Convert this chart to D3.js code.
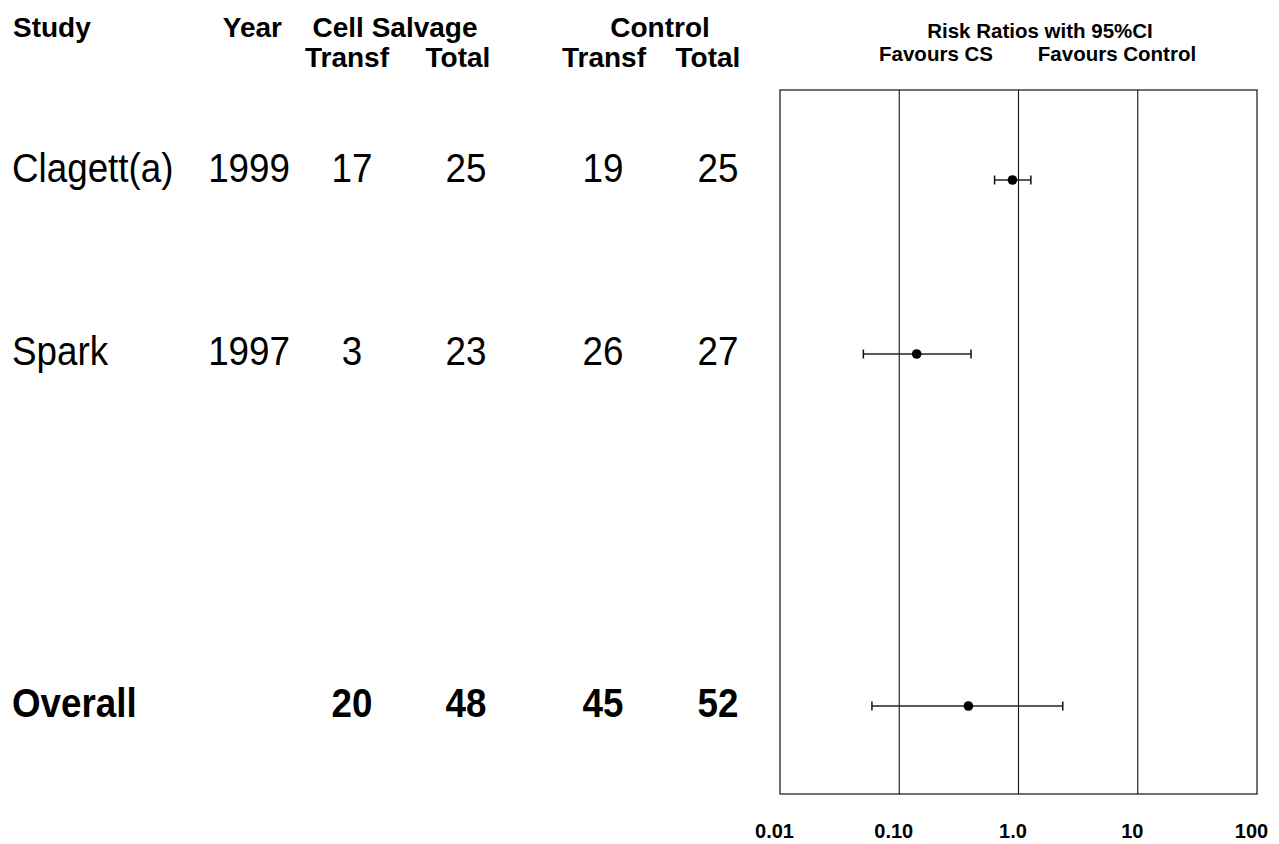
<!DOCTYPE html>
<html>
<head>
<meta charset="utf-8">
<script src="https://cdn.jsdelivr.net/npm/d3@7"></script>
<style>
  html, body { margin: 0; padding: 0; background: #fff; }
  svg { display: block; }
  text { font-family: "Liberation Sans", Arial, Helvetica, sans-serif; fill: #000; }
</style>
</head>
<body>
<svg id="chart" width="1279" height="844"></svg>
<script>
// ---- data ----
const studies    = ["Clagett(a)", "Spark", "Overall"];
const years      = ["1999", "1997", ""];
const csTransf   = [17, 3, 20];
const csTotal    = [25, 23, 48];
const ctrlTransf = [19, 26, 45];
const ctrlTotal  = [25, 27, 52];
const rowIndex   = [0, 1, 3];           // Overall sits after a blank row
const isSummary  = [false, false, true];
const rr         = [0.89, 0.14, 0.38];
const ciLow      = [0.63, 0.05, 0.059];
const ciHigh     = [1.27, 0.40, 2.35];
const tickValues = [0.01, 0.1, 1, 10, 100];
const tickLabels = ["0.01", "0.10", "1.0", "10", "100"];
const gridValues = [0.1, 1, 10];
const plotTitle1 = "Risk Ratios with 95%CI";
const favLeft    = "Favours CS";
const favRight   = "Favours Control";

// ---- layout ----
const svg = d3.select("#chart");
const box = { left: 780, right: 1257, top: 90, bottom: 794 };

const x = d3.scaleLog().domain([0.01, 100]).range([box.left, box.right]);
const yMark = d3.scaleLinear().domain([0, 1, 3]).range([180, 354, 706]);
const yText = d3.scaleLinear().domain([0, 1, 3]).range([182, 365, 717]);

// ---- headers ----
const hdr = svg.append("g").attr("font-weight", "bold").attr("font-size", 28);
hdr.append("text").attr("x", 13).attr("y", 37).text("Study");
hdr.append("text").attr("x", 282).attr("y", 37).attr("text-anchor", "end").text("Year");
hdr.append("text").attr("x", 395).attr("y", 37).attr("text-anchor", "middle").text("Cell Salvage");
hdr.append("text").attr("x", 660).attr("y", 37).attr("text-anchor", "middle").text("Control");
[["Transf", 347], ["Total", 458], ["Transf", 604], ["Total", 708]].forEach(([t, cx]) => {
  hdr.append("text").attr("x", cx).attr("y", 67).attr("text-anchor", "middle").text(t);
});

// ---- table rows ----
const colCenters = [352, 466, 603, 718];
function rowText(g, str, xPos, yPos, anchor, bold) {
  g.append("text")
    .attr("transform", `translate(${xPos},${yPos}) scale(0.92,1)`)
    .attr("text-anchor", anchor)
    .attr("font-size", 40)
    .attr("font-weight", bold ? "bold" : "normal")
    .text(str);
}
const rows = svg.append("g");
studies.forEach((s, i) => {
  const yy = yText(rowIndex[i]);
  const b = isSummary[i];
  rowText(rows, s, 12, yy, "start", b);
  if (years[i]) rowText(rows, years[i], 290, yy, "end", b);
  [csTransf[i], csTotal[i], ctrlTransf[i], ctrlTotal[i]].forEach((v, j) => {
    rowText(rows, String(v), colCenters[j], yy, "middle", b);
  });
});

// ---- plot title ----
const ttl = svg.append("g").attr("font-weight", "bold").attr("font-size", 20.5).attr("text-anchor", "middle");
ttl.append("text").attr("x", 1040).attr("y", 38).text(plotTitle1);
ttl.append("text").attr("x", 936).attr("y", 61).text(favLeft);
ttl.append("text").attr("x", 1117).attr("y", 61).text(favRight);

// ---- plot box and reference lines ----
svg.append("rect")
  .attr("x", box.left).attr("y", box.top)
  .attr("width", box.right - box.left).attr("height", box.bottom - box.top)
  .attr("fill", "none").attr("stroke", "#111").attr("stroke-width", 1.2);

svg.append("g").selectAll("line").data(gridValues).join("line")
  .attr("x1", d => x(d)).attr("x2", d => x(d))
  .attr("y1", box.top).attr("y2", box.bottom)
  .attr("stroke", "#111").attr("stroke-width", 1.1);

// ---- x axis labels ----
const axis = d3.axisBottom(x).tickValues(tickValues)
  .tickFormat((d, i) => tickLabels[i]).tickSize(0).tickPadding(0);
const axG = svg.append("g").attr("transform", `translate(0,${box.bottom})`).call(axis);
axG.select(".domain").remove();
axG.selectAll("text")
  .attr("dy", null).attr("y", 44).attr("dx", -6)
  .attr("font-size", 20).attr("font-weight", "bold")
  .attr("font-family", '"Liberation Sans", Arial, sans-serif').attr("fill", "#000");

// ---- confidence intervals & points ----
const marks = svg.append("g");
studies.forEach((s, i) => {
  const yy = yMark(rowIndex[i]);
  marks.append("line")
    .attr("x1", x(ciLow[i])).attr("x2", x(ciHigh[i]))
    .attr("y1", yy).attr("y2", yy)
    .attr("stroke", "#222").attr("stroke-width", 1.3);
  [ciLow[i], ciHigh[i]].forEach(v => {
    marks.append("line")
      .attr("x1", x(v)).attr("x2", x(v))
      .attr("y1", yy - 4.5).attr("y2", yy + 4.5)
      .attr("stroke", "#111").attr("stroke-width", 1.5);
  });
  marks.append("circle")
    .attr("cx", x(rr[i])).attr("cy", yy).attr("r", 4.8)
    .attr("fill", "#000");
});
</script>
</body>
</html>
